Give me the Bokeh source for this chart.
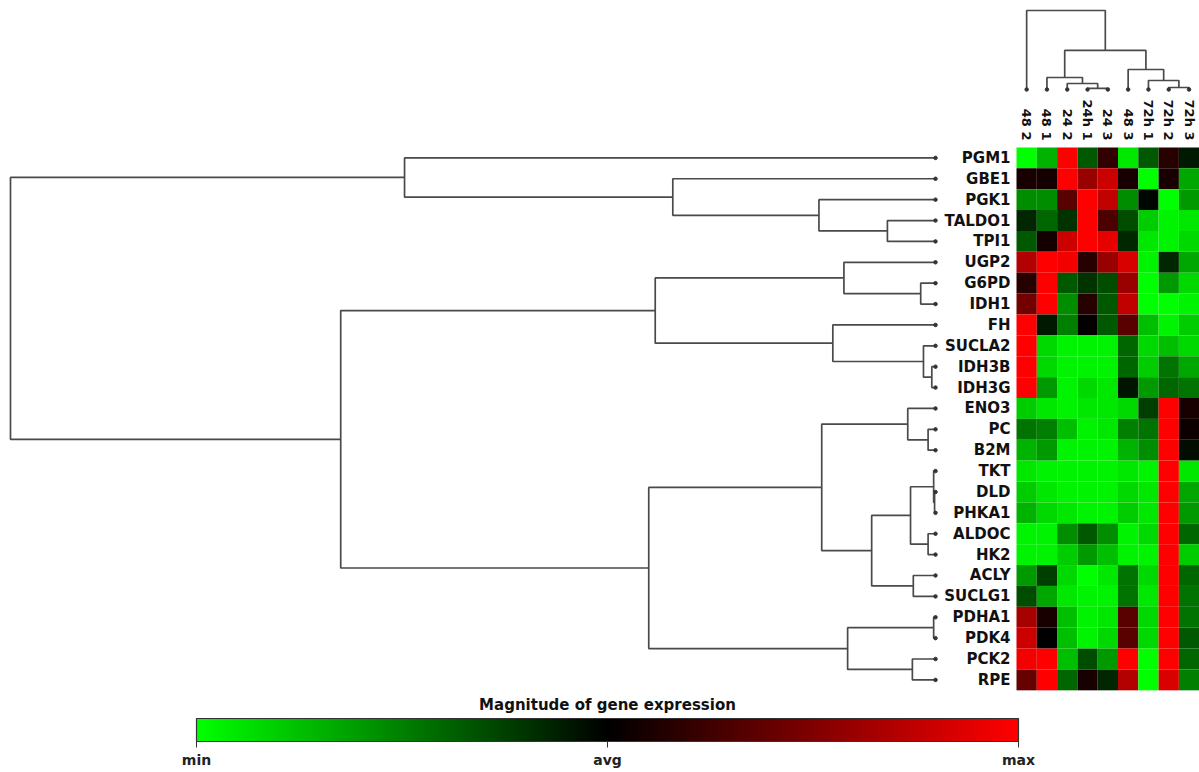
import math
from bokeh.plotting import figure
from bokeh.models import Range1d, ColumnDataSource, LinearColorMapper, ColorBar, FixedTicker
from bokeh.core.properties import value
from bokeh.embed import file_html
from bokeh.resources import INLINE

# ---------------- data ----------------
row_labels = ["PGM1", "GBE1", "PGK1", "TALDO1", "TPI1", "UGP2", "G6PD", "IDH1", "FH",
              "SUCLA2", "IDH3B", "IDH3G", "ENO3", "PC", "B2M", "TKT", "DLD", "PHKA1",
              "ALDOC", "HK2", "ACLY", "SUCLG1", "PDHA1", "PDK4", "PCK2", "RPE"]
col_labels = ["48 2", "48 1", "24 2", "24h 1", "24 3", "48 3", "72h 1", "72h 2", "72h 3"]

# expression (min = -1, avg = 0, max = +1), one list per sample column
s48_2 = [-1, 0.1, -0.55, -0.15, -0.35, 0.7, 0.15, 0.45, 1, 1, 1, 1, -0.8, -0.45, -0.7,
         -0.9, -0.8, -0.7, -0.95, -0.95, -0.6, -0.3, 0.65, 0.8, 0.95, 0.4]
s48_1 = [-0.7, 0.08, -0.55, -0.4, 0.08, 1, 1, 1, -0.1, -0.85, -0.85, -0.6, -0.9, -0.5, -0.6,
         -0.95, -0.9, -0.85, -0.95, -0.95, -0.25, -0.65, 0.1, 0.0, 1, 1]
s24_2 = [1, 1, 0.35, -0.2, 0.8, 0.95, -0.35, -0.55, -0.5, -0.95, -0.95, -0.95, -0.95, -0.75,
         -0.95, -0.95, -0.95, -0.9, -0.55, -0.8, -0.85, -0.9, -0.75, -0.75, -0.75, -0.4]
s24h_1 = [-0.35, 0.6, 1, 1, 1, 0.15, -0.2, 0.15, 0.02, -0.95, -0.95, -0.85, -0.9, -0.95,
          -0.95, -0.95, -0.95, -0.95, -0.35, -0.6, -1, -0.95, -0.95, -0.95, -0.3, 0.1]
s24_3 = [0.2, 0.8, 0.75, 0.3, 0.9, 0.6, -0.3, -0.35, -0.35, -0.95, -0.95, -0.9, -0.9, -0.9,
         -0.95, -0.95, -0.95, -0.95, -0.55, -0.75, -0.9, -0.95, -0.9, -0.85, -0.6, -0.15]
s48_3 = [-0.9, 0.1, -0.55, -0.3, -0.15, 0.85, 0.6, 0.75, 0.35, -0.4, -0.4, -0.08, -0.85, -0.5,
         -0.7, -0.9, -0.85, -0.8, -0.95, -0.95, -0.45, -0.45, 0.35, 0.35, 1, 0.7]
s72h_1 = [-0.35, -1, -0.03, -0.8, -0.9, -0.95, -1, -1, -0.75, -0.85, -0.8, -0.6, -0.25, -0.45,
          -0.55, -0.95, -0.9, -0.9, -0.85, -0.95, -0.85, -0.9, -0.85, -0.85, -1, -1]
s72h_2 = [0.15, 0.1, -1, -0.95, -0.95, -0.15, -0.6, -1, -0.95, -0.75, -0.45, -0.4, 1, 1, 1,
          1, 1, 1, 1, 1, 1, 1, 1, 1, 1, 0.85]
s72h_3 = [-0.1, -0.65, -0.6, -0.9, -0.85, -0.65, -0.85, -0.95, -0.8, -0.85, -0.65, -0.45, 0.1,
          0.05, -0.05, -0.9, -0.65, -0.6, -0.4, -0.8, -0.4, -0.45, -0.45, -0.35, -0.4, -0.5]
columns = [s48_2, s48_1, s24_2, s24h_1, s24_3, s48_3, s72h_1, s72h_2, s72h_3]

# row dendrogram merges: (node, left, right, height)
row_merges = [
    ("D", "TALDO1", "TPI1", 0.052), ("C", "PGK1", "D", 0.126), ("B", "GBE1", "C", 0.284),
    ("A", "PGM1", "B", 0.574), ("H", "G6PD", "IDH1", 0.016), ("G", "UGP2", "H", 0.099),
    ("K2", "IDH3B", "IDH3G", 0.004), ("K", "SUCLA2", "K2", 0.013), ("J", "FH", "K", 0.111),
    ("F", "G", "J", 0.303), ("O", "PC", "B2M", 0.008), ("N", "ENO3", "O", 0.030),
    ("Q1b", "DLD", "PHKA1", 0.001), ("Q1", "TKT", "Q1b", 0.002), ("Q2", "ALDOC", "HK2", 0.008),
    ("Q", "Q1", "Q2", 0.027), ("R", "ACLY", "SUCLG1", 0.024), ("P", "Q", "R", 0.069),
    ("M", "N", "P", 0.123), ("T", "PDHA1", "PDK4", 0.002), ("U", "PCK2", "RPE", 0.025),
    ("S", "T", "U", 0.095), ("L", "M", "S", 0.310), ("E", "F", "L", 0.643),
    ("root", "A", "E", 1.0),
]
# column dendrogram merges
col_merges = [
    ("n1", "24h 1", "24 3", 0.013), ("n2", "24 2", "n1", 0.076), ("n3", "48 1", "n2", 0.152),
    ("n4", "72h 2", "72h 3", 0.025), ("n5", "72h 1", "n4", 0.114), ("n6", "48 3", "n5", 0.253),
    ("n7", "n3", "n6", 0.494), ("root", "48 2", "n7", 1.0),
]
scale_ticks = [-1, 0, 1]
scale_tick_labels = ["min", "avg", "max"]
scale_title = "Magnitude of gene expression"


def dendro_segments(leaves, merges):
    pos = {name: float(i) for i, name in enumerate(leaves)}
    hgt = {name: 0.0 for name in leaves}
    hs, ps = [], []
    for node, a, b, h in merges:
        hs.append([hgt[a], h, h, hgt[b]])
        ps.append([pos[a], pos[a], pos[b], pos[b]])
        pos[node] = (pos[a] + pos[b]) / 2.0
        hgt[node] = h
    return hs, ps


# ---------------- figure ----------------
W, H = 1199, 772
p = figure(width=W, height=H, output_backend="svg", toolbar_location=None,
           x_range=Range1d(-50.55, 8.515), y_range=Range1d(29.435, -7.538),
           x_axis_type=None, y_axis_type=None, min_border=0)
p.outline_line_color = None
p.background_fill_color = "white"
p.extra_x_ranges = {"rd": Range1d(1.0108, -0.2854),
                    "cb": Range1d(-1 - 2 * 196 / 822, -1 + 2 * (W - 196) / 822)}
p.extra_y_ranges = {"cd": Range1d(-8.646, 1.1266)}

# palette green -> black -> red
palette = []
for k in range(256):
    t = -1 + 2 * k / 255
    if t < 0:
        palette.append("#%02x%02x%02x" % (0, int(round(-t * 255)), 0))
    else:
        palette.append("#%02x%02x%02x" % (int(round(t * 255)), 0, 0))
mapper = LinearColorMapper(palette=palette, low=-1, high=1)

xs, ys, vs = [], [], []
for j, col in enumerate(columns):
    for i, v in enumerate(col):
        xs.append(j)
        ys.append(i)
        vs.append(v)
src = ColumnDataSource(dict(x=xs, y=ys, v=vs))
p.rect(x="x", y="y", width=1, height=1, source=src,
       fill_color={"field": "v", "transform": mapper}, line_color=None)

line_col = "#4a4a4a"
# row dendrogram
rh, rp = dendro_segments(row_labels, row_merges)
p.multi_line(xs=rh, ys=rp, x_range_name="rd", line_color=line_col, line_width=1.7)
p.scatter(x=[0.0] * len(row_labels), y=list(range(len(row_labels))), x_range_name="rd",
          size=3.5, color="#333333")

# column dendrogram
ch, cp = dendro_segments(col_labels, col_merges)
p.multi_line(xs=cp, ys=ch, y_range_name="cd", line_color=line_col, line_width=1.7)
p.scatter(x=list(range(len(col_labels))), y=[0.0] * len(col_labels), y_range_name="cd",
          size=3.5, color="#333333")

# labels
p.text(x=[-0.5] * len(row_labels), y=list(range(len(row_labels))), text=row_labels,
       x_offset=-6, text_align="right", text_baseline="middle",
       text_font=value("DejaVu Sans"), text_font_style="bold", text_font_size="15px",
       text_color="#111111")
row_px = 20.88
p.text(x=list(range(len(col_labels))), y=[-0.5 - 7 / row_px] * len(col_labels), text=col_labels,
       angle=-math.pi / 2, text_align="right", text_baseline="middle",
       text_font=value("DejaVu Sans"), text_font_style="bold", text_font_size="13px",
       text_color="#111111")

# colour scale
cb = ColorBar(color_mapper=mapper, orientation="horizontal", width=822, height=23,
              ticker=FixedTicker(ticks=scale_ticks),
              major_label_overrides=dict(zip(scale_ticks, scale_tick_labels)),
              major_label_text_font="DejaVu Sans", major_label_text_font_style="bold",
              major_label_text_font_size="14px", major_label_text_color="#222222",
              label_standoff=4,
              bar_line_color="#333333", bar_line_width=1.2,
              major_tick_out=6, major_tick_in=0, major_tick_line_color="#333333",
              padding=0, location=(196, 2), background_fill_alpha=0,
              border_line_color=None)
p.add_layout(cb)
# title centred above the bar (bar top at 718 px -> row coords)
title_y = (714 - 157.4) / row_px
p.text(x=[0], y=[title_y], text=[scale_title], x_range_name="cb",
       text_align="center", text_baseline="bottom",
       text_font=value("DejaVu Sans"), text_font_style="bold", text_font_size="15px",
       text_color="#111111")

open("out.html", "w").write(file_html(p, INLINE))
